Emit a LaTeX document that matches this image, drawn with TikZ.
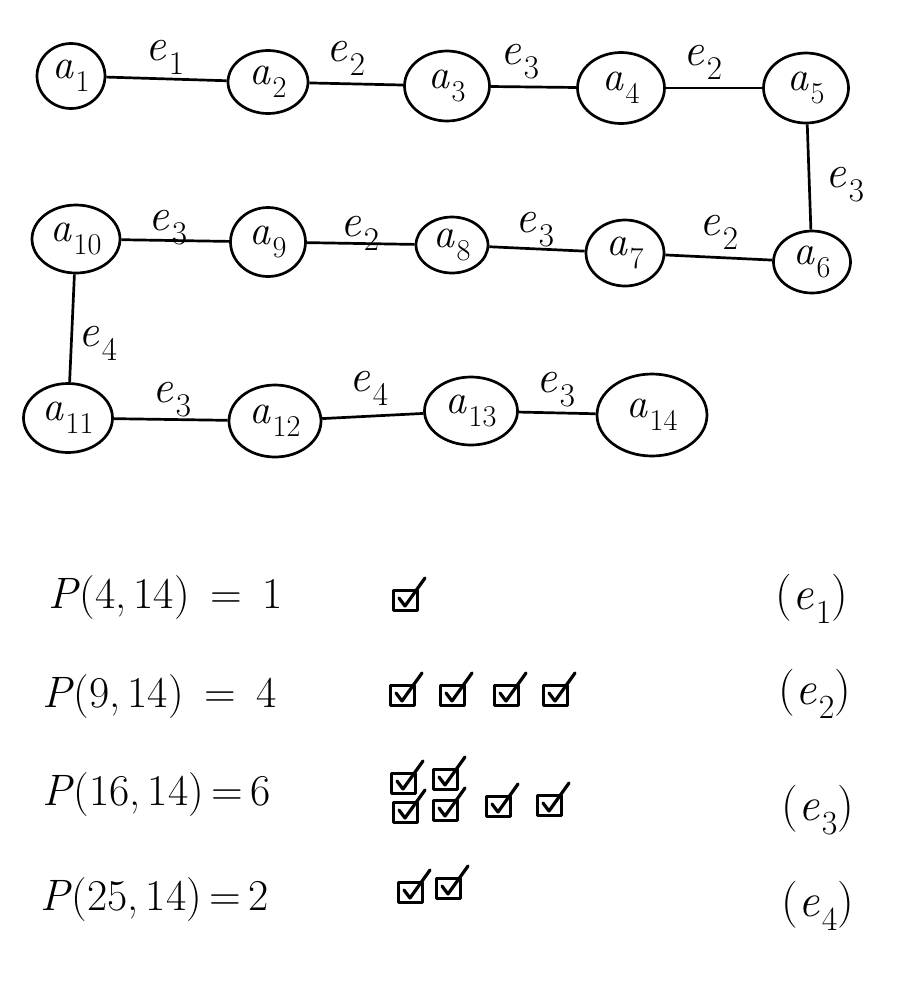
\documentclass[tikz,border=0pt]{standalone}
\usepackage{fontspec}
\usetikzlibrary{shapes.geometric}
\newcommand{\vx}[2]{\textit{#1}\kern0.04em\raisebox{-0.3em}{\fontsize{0.72em}{0.7em}\selectfont #2}}
\begin{document}
\begin{tikzpicture}[x=1pt,y=-1pt,
  vtx/.style={draw, ellipse, line width=2.7pt, inner sep=0pt, font=\fontsize{42}{48}\selectfont},
  edg/.style={line width=2.7pt},
  elab/.style={inner sep=0pt, font=\fontsize{46}{52}\selectfont},
  eqn/.style={inner sep=0pt, anchor=west, font=\fontsize{44}{52}\selectfont},
  tag/.style={inner sep=0pt, font=\fontsize{47}{54}\selectfont},
  chk/.pic={
    \draw[line width=3pt, line join=round] (0,0) rectangle (24,20);
    \draw[line width=3.2pt, line cap=round, line join=round] (6,8) -- (12,16) -- (32,-12);
  }]
\useasboundingbox[fill=white] (0,0) rectangle (921,989);

% vertices
\node[vtx, minimum width=68pt, minimum height=65pt] (a1) at (71,76) {\vx{a}{1}};
\node[vtx, minimum width=80pt, minimum height=63pt] (a2) at (268,82) {\vx{a}{2}};
\node[vtx, minimum width=85pt, minimum height=70pt] (a3) at (447,86) {\vx{a}{3}};
\node[vtx, minimum width=87pt, minimum height=71pt] (a4) at (621,88) {\vx{a}{4}};
\node[vtx, minimum width=85pt, minimum height=70pt] (a5) at (806,88) {\vx{a}{5}};
\node[vtx, minimum width=77pt, minimum height=62pt] (a6) at (812,262) {\vx{a}{6}};
\node[vtx, minimum width=78pt, minimum height=66pt] (a7) at (625,253) {\vx{a}{7}};
\node[vtx, minimum width=72pt, minimum height=56pt] (a8) at (452,245) {\vx{a}{8}};
\node[vtx, minimum width=75pt, minimum height=69pt] (a9) at (268,242) {\vx{a}{9}};
\node[vtx, minimum width=88pt, minimum height=68pt] (a10) at (76,239) {\vx{a}{10}};
\node[vtx, minimum width=89pt, minimum height=69pt] (a11) at (68,418) {\vx{a}{11}};
\node[vtx, minimum width=92pt, minimum height=72pt] (a12) at (275,421) {\vx{a}{12}};
\node[vtx, minimum width=93pt, minimum height=68pt] (a13) at (471,411) {\vx{a}{13}};
\node[vtx, minimum width=110pt, minimum height=82pt] (a14) at (652,415) {\vx{a}{14}};

% edges
\draw[edg] (a1) -- (a2);
\draw[edg] (a2) -- (a3);
\draw[edg] (a3) -- (a4);
\draw[edg] (a4) -- (a5);
\draw[edg] (a5) -- (a6);
\draw[edg] (a6) -- (a7);
\draw[edg] (a7) -- (a8);
\draw[edg] (a8) -- (a9);
\draw[edg] (a9) -- (a10);
\draw[edg] (a10) -- (a11);
\draw[edg] (a11) -- (a12);
\draw[edg] (a12) -- (a13);
\draw[edg] (a13) -- (a14);

% edge labels
\node[elab] (l12) at (165,57) {\vx{e}{1}};
\node[elab] (l23) at (346,58) {\vx{e}{2}};
\node[elab] (l34) at (520,62) {\vx{e}{3}};
\node[elab] (l45) at (703,62) {\vx{e}{2}};
\node[elab] (l56) at (845,185) {\vx{e}{3}};
\node[elab] (l67) at (719,232) {\vx{e}{2}};
\node[elab] (l78) at (535,230) {\vx{e}{3}};
\node[elab] (l89) at (360,233) {\vx{e}{2}};
\node[elab] (l910) at (168,228) {\vx{e}{3}};
\node[elab] (l1011) at (98,343) {\vx{e}{4}};
\node[elab] (l1112) at (172,400) {\vx{e}{3}};
\node[elab] (l1213) at (369,388) {\vx{e}{4}};
\node[elab] (l1314) at (556,390) {\vx{e}{3}};

% equations
\node[eqn] (p1) at (48,598) {\textit{P}(4,\,14)\, = \,1};
\node[eqn] (p2) at (42,697) {\textit{P}(9,\,14)\, = \,4};
\node[eqn] (p3) at (42,795) {\textit{P}(16,\,14)\,=\,6};
\node[eqn] (p4) at (40,900) {\textit{P}(25,\,14)\,=\,2};

\node[tag] (t1) at (812,599) {(\vx{e}{1})};
\node[tag] (t2) at (815,694) {(\vx{e}{2})};
\node[tag] (t3) at (818,810) {(\vx{e}{3})};
\node[tag] (t4) at (818,906) {(\vx{e}{4})};

% check boxes
\pic at (393,590) {chk};

\pic at (390,685) {chk};
\pic at (440,685) {chk};
\pic at (494,685) {chk};
\pic at (543,685) {chk};

\pic at (391,773) {chk};
\pic at (433,769) {chk};
\pic at (393,802) {chk};
\pic at (433,800) {chk};
\pic at (486,796) {chk};
\pic at (537,795) {chk};

\pic at (398,882) {chk};
\pic at (436,878) {chk};
\end{tikzpicture}
\end{document}
